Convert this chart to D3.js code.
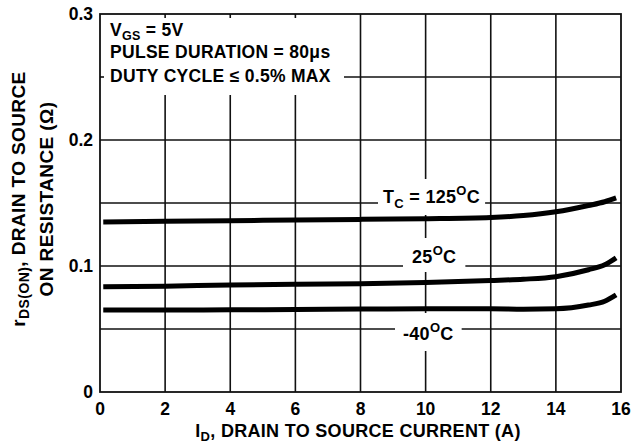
<!DOCTYPE html>
<html>
<head>
<meta charset="utf-8">
<script src="https://cdn.jsdelivr.net/npm/d3@7"></script>
<style>
body { margin: 0; background: #fff; }
text { font-family: "Liberation Sans", Arial, sans-serif; font-weight: bold; fill: #000; }
</style>
</head>
<body>
<svg width="632" height="445"></svg>
<script>
// drain current (A) and on-resistance (ohm)
var current = [0.1, 2, 4, 6, 8, 10, 12, 13, 14, 15, 15.5, 15.85];
var r125 = [0.135, 0.1355, 0.136, 0.1365, 0.137, 0.1375, 0.1385, 0.140, 0.143, 0.148, 0.151, 0.154];
var r25 = [0.0835, 0.084, 0.085, 0.0855, 0.086, 0.087, 0.0885, 0.0895, 0.0915, 0.097, 0.101, 0.1065];
var rm40 = [0.065, 0.065, 0.0652, 0.0655, 0.0658, 0.066, 0.066, 0.0657, 0.066, 0.069, 0.072, 0.077];

var xTicks = [0, 2, 4, 6, 8, 10, 12, 14, 16];
var yTicks = [0, 0.1, 0.2, 0.3];
var yGrid = [0.05, 0.1, 0.15, 0.2, 0.25];

var svg = d3.select('svg');

var scaleX = d3.scaleLinear().domain([0, 16]).range([100, 621]);
var scaleY = d3.scaleLinear().domain([0, 0.3]).range([392, 14]);

// grid
svg.selectAll('.vgrid')
  .data(xTicks.slice(1, -1))
  .enter()
  .append('line')
  .attr('x1', function(d){ return scaleX(d); })
  .attr('x2', function(d){ return scaleX(d); })
  .attr('y1', scaleY(0.3))
  .attr('y2', scaleY(0))
  .attr('stroke', '#111')
  .attr('stroke-width', 1.6);

svg.selectAll('.hgrid')
  .data(yGrid)
  .enter()
  .append('line')
  .attr('x1', scaleX(0))
  .attr('x2', scaleX(16))
  .attr('y1', function(d){ return scaleY(d); })
  .attr('y2', function(d){ return scaleY(d); })
  .attr('stroke', '#111')
  .attr('stroke-width', 1.6);

// white box behind the test conditions
svg.append('rect')
  .attr('x', scaleX(0) + 1)
  .attr('y', scaleY(0.3) + 1)
  .attr('width', 243)
  .attr('height', 80)
  .attr('fill', '#fff');

// little ticks left visible inside the box
svg.selectAll('.ttick')
  .data([2, 4, 6])
  .enter()
  .append('line')
  .attr('x1', function(d){ return scaleX(d); })
  .attr('x2', function(d){ return scaleX(d); })
  .attr('y1', scaleY(0.3))
  .attr('y2', scaleY(0.3) + 4)
  .attr('stroke', '#111')
  .attr('stroke-width', 1.6);

svg.append('line')
  .attr('x1', scaleX(0))
  .attr('x2', scaleX(0) + 4)
  .attr('y1', scaleY(0.25))
  .attr('y2', scaleY(0.25))
  .attr('stroke', '#111')
  .attr('stroke-width', 1.6);

// frame
svg.append('rect')
  .attr('x', scaleX(0))
  .attr('y', scaleY(0.3))
  .attr('width', scaleX(16) - scaleX(0))
  .attr('height', scaleY(0) - scaleY(0.3))
  .attr('fill', 'none')
  .attr('stroke', '#111')
  .attr('stroke-width', 1.8);

// condition text
var cond = svg.append('g')
  .attr('font-size', 17.5)
  .attr('letter-spacing', 0.3);

var t1 = cond.append('text').attr('x', 110).attr('y', 36);
t1.append('tspan').text('V');
t1.append('tspan').attr('font-size', 12.5).attr('dy', 4).text('GS');
t1.append('tspan').attr('dy', -4).text(' = 5V');

cond.append('text').attr('x', 110).attr('y', 58).text('PULSE DURATION = 80\u03bcs');
cond.append('text').attr('x', 110).attr('y', 82).text('DUTY CYCLE \u2264 0.5% MAX');

// curves
var line = d3.line()
  .x(function(d){ return scaleX(d[0]); })
  .y(function(d){ return scaleY(d[1]); })
  .curve(d3.curveMonotoneX);

[r125, r25, rm40].forEach(function(series){
  svg.append('path')
    .attr('d', line(d3.zip(current, series)))
    .attr('fill', 'none')
    .attr('stroke', '#000')
    .attr('stroke-width', 5);
});

// curve labels with white patch over the grid
function tempLabel(x, y, parts, padX, padY) {
  var g = svg.append('g');
  var t = g.append('text')
    .attr('x', x)
    .attr('y', y)
    .attr('font-size', 18)
    .attr('letter-spacing', 0.3);
  parts.forEach(function(p){
    var s = t.append('tspan').text(p[0]);
    if (p[1]) s.attr('font-size', 13).attr('dy', p[1]);
    if (p[2]) s.attr('dy', p[2]);
  });
  var b = t.node().getBBox();
  g.insert('rect', 'text')
    .attr('x', b.x - padX)
    .attr('y', b.y - padY)
    .attr('width', b.width + padX * 2)
    .attr('height', b.height + padY * 2)
    .attr('fill', '#fff');
}

tempLabel(383, 203, [['T'], ['C', 5], ['\u00a0= 125', 0, -5], ['O', -8], ['C', 0, 8]], 5, 4);
tempLabel(412, 263, [['25'], ['O', -8], ['C', 0, 8]], 9, 5);
tempLabel(403, 340, [['-40'], ['O', -8], ['C', 0, 8]], 8, 7);

// tick labels
svg.selectAll('.xlab')
  .data(xTicks)
  .enter()
  .append('text')
  .attr('x', function(d){ return scaleX(d); })
  .attr('y', 415)
  .attr('text-anchor', 'middle')
  .attr('font-size', 17.5)
  .text(function(d){ return d; });

svg.selectAll('.ylab')
  .data(yTicks)
  .enter()
  .append('text')
  .attr('x', 93)
  .attr('y', function(d){ return scaleY(d) + 6; })
  .attr('text-anchor', 'end')
  .attr('font-size', 17.5)
  .text(function(d){ return d === 0 ? '0' : d.toFixed(1); });

// axis titles
var xt = svg.append('text')
  .attr('x', 358)
  .attr('y', 437)
  .attr('text-anchor', 'middle')
  .attr('font-size', 18)
  .attr('letter-spacing', 0.3);
xt.append('tspan').text('I');
xt.append('tspan').attr('font-size', 13).attr('dy', 4).text('D');
xt.append('tspan').attr('dy', -4).text(', DRAIN TO SOURCE CURRENT (A)');

var yt1 = svg.append('text')
  .attr('transform', 'translate(25,199) rotate(-90)')
  .attr('text-anchor', 'middle')
  .attr('font-size', 19)
  .attr('letter-spacing', 0.4);
yt1.append('tspan').text('r');
yt1.append('tspan').attr('font-size', 14).attr('dy', 4).text('DS(ON)');
yt1.append('tspan').attr('dy', -4).text(', DRAIN TO SOURCE');

svg.append('text')
  .attr('transform', 'translate(53,199) rotate(-90)')
  .attr('text-anchor', 'middle')
  .attr('font-size', 19)
  .attr('letter-spacing', 0.4)
  .text('ON RESISTANCE (\u03a9)');
</script>
</body>
</html>
